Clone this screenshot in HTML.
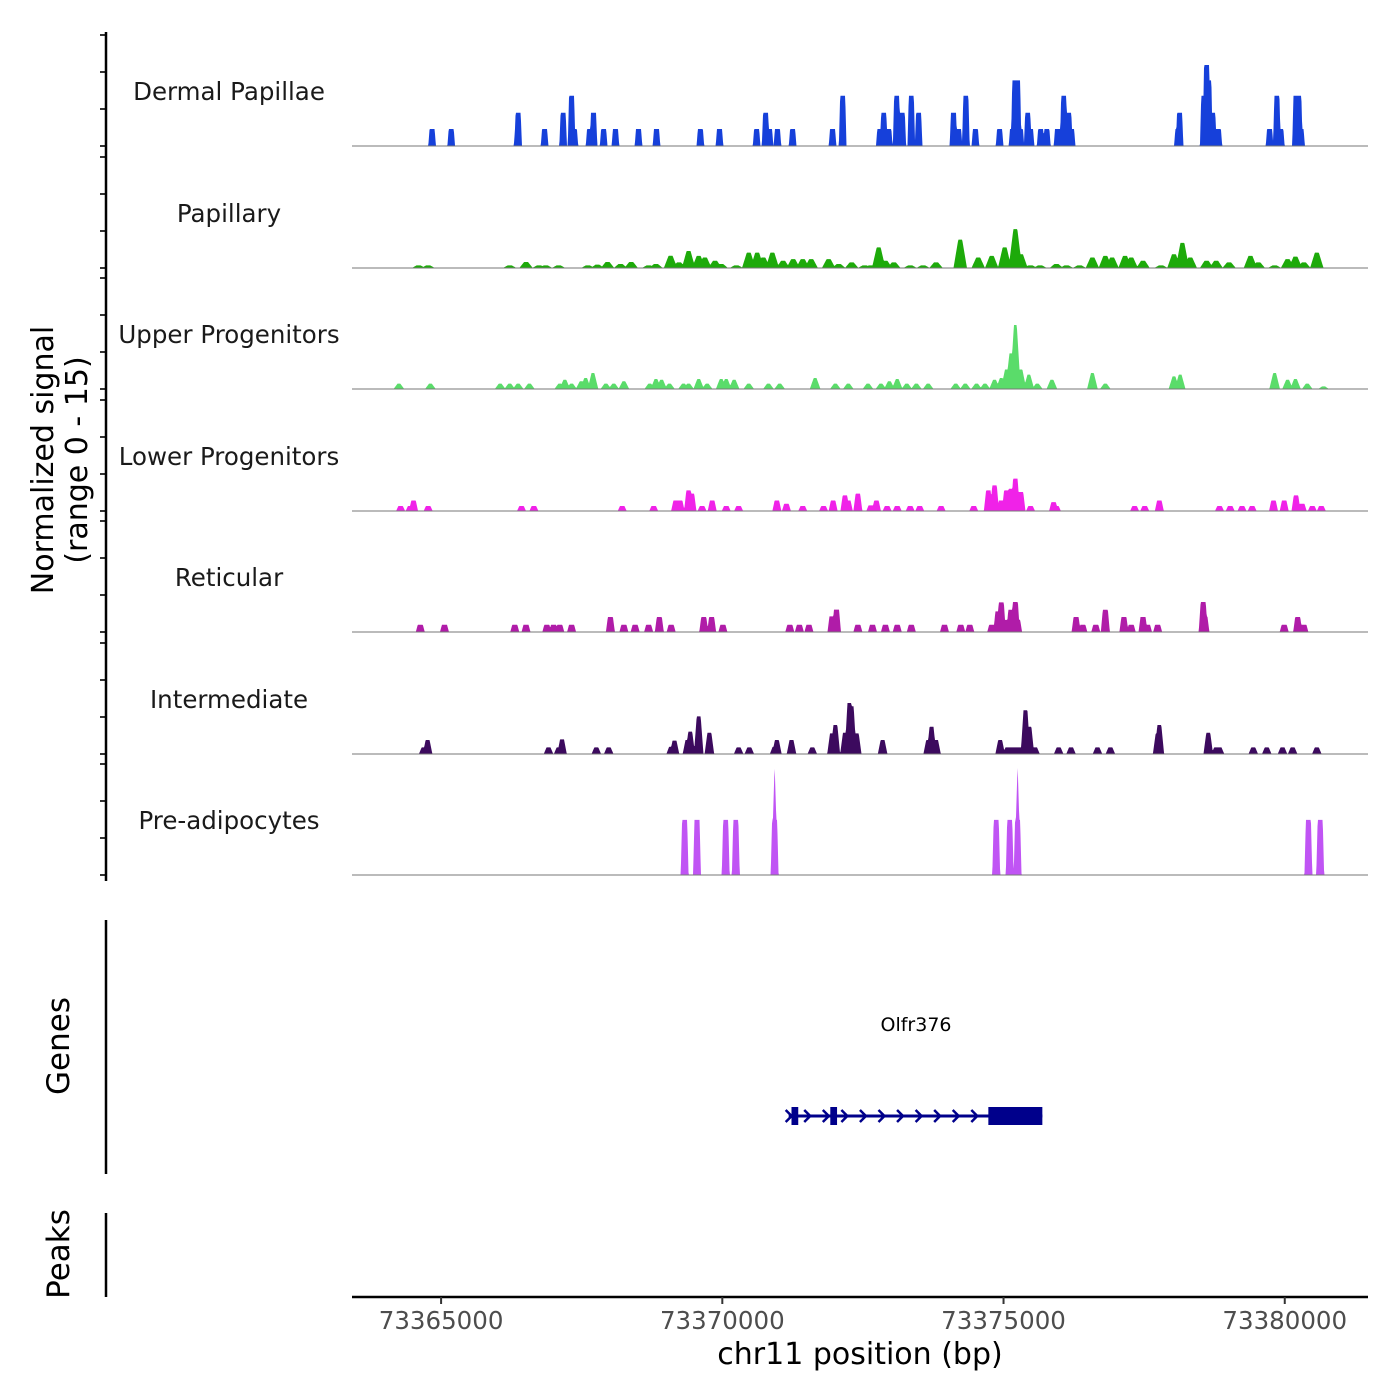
<!DOCTYPE html>
<html><head><meta charset="utf-8">
<style>
html,body{margin:0;padding:0;background:#fff;}
svg{display:block;font-family:"DejaVu Sans","Liberation Sans",sans-serif;}
</style></head>
<body>
<svg id="chart" width="1400" height="1400" viewBox="0 0 1400 1400" xmlns="http://www.w3.org/2000/svg"></svg>
<script>
// ---- data (positions in kb, values = normalized signal) ----
const trackNames = ["Dermal Papillae","Papillary","Upper Progenitors","Lower Progenitors","Reticular","Intermediate","Pre-adipocytes"];
const xTickValues = [73365000,73370000,73375000,73380000];
const xTickLabels = ["73365000","73370000","73375000","73380000"];

const dermalPos = [73364.84,73365.18,73366.36,73366.37,73366.84,73367.17,73367.32,73367.37,73367.64,73367.71,73367.89,73368.10,73368.51,73368.83,73369.61,73369.95,73370.61,73370.77,73370.84,73370.98,73371.25,73371.96,73372.14,73372.80,73372.87,73372.96,73373.10,73373.20,73373.36,73373.49,73374.11,73374.20,73374.33,73374.50,73374.93,73375.16,73375.20,73375.25,73375.30,73375.43,73375.48,73375.66,73375.77,73375.96,73376.07,73376.16,73376.21,73378.10,73378.13,73378.56,73378.61,73378.65,73378.72,73378.77,73378.82,73379.73,73379.86,73379.93,73380.20,73380.25,73380.29];
const dermalVal = [2.1,2.1,2.1,4.1,2.1,4.1,6.2,2.1,2.1,4.1,2.1,2.1,2.1,2.1,2.1,2.1,2.1,4.1,2.1,2.1,2.1,2.1,6.2,2.1,4.1,2.1,6.2,4.1,6.2,4.1,4.1,2.1,6.2,2.1,2.1,2.1,8.1,8.1,2.1,4.1,2.1,2.1,2.1,2.1,6.2,4.1,2.1,2.1,4.1,6.2,10,8.1,4.1,2.1,2.1,2.1,6.2,2.1,6.2,6.2,2.1];

const papillaryPos = [73364.60,73364.77,73366.22,73366.51,73366.74,73366.86,73367.09,73367.61,73367.78,73367.96,73368.19,73368.38,73368.69,73368.82,73369.08,73369.23,73369.40,73369.58,73369.69,73369.87,73369.98,73370.25,73370.47,73370.62,73370.73,73370.89,73371.08,73371.26,73371.43,73371.58,73371.89,73372.07,73372.30,73372.53,73372.64,73372.78,73372.90,73373.05,73373.34,73373.57,73373.80,73374.23,73374.55,73374.79,73375.02,73375.21,73375.31,73375.48,73375.65,73375.94,73376.12,73376.35,73376.58,73376.81,73376.93,73377.16,73377.27,73377.48,73377.80,73378.03,73378.18,73378.32,73378.61,73378.78,73379.01,73379.39,73379.53,73379.82,73380.05,73380.19,73380.34,73380.57];
const papillaryVal = [0.33,0.33,0.33,0.74,0.33,0.33,0.33,0.33,0.41,0.74,0.5,0.74,0.33,0.5,1.52,0.7,2.1,1.5,1.3,0.9,0.5,0.33,1.9,1.9,1.3,1.9,0.9,1.1,1.1,1.1,1.1,0.5,0.7,0.33,0.33,2.55,0.9,0.7,0.33,0.33,0.7,3.5,1.3,1.5,2.55,4.8,1.7,0.33,0.33,0.5,0.33,0.33,1.3,1.5,1.3,1.5,1.3,0.9,0.33,1.7,3.1,1.3,0.9,0.9,0.7,1.5,0.7,0.33,1.1,1.4,0.7,1.9];

const upperPos = [73364.25,73364.81,73366.05,73366.22,73366.37,73366.57,73367.11,73367.20,73367.32,73367.49,73367.57,73367.70,73367.93,73368.07,73368.25,73368.71,73368.82,73368.92,73369.06,73369.31,73369.40,73369.58,73369.73,73369.98,73370.07,73370.21,73370.47,73370.82,73371.02,73371.65,73372.01,73372.24,73372.59,73372.82,73372.97,73373.11,73373.28,73373.45,73373.66,73374.15,73374.32,73374.52,73374.67,73374.84,73374.96,73375.05,73375.13,73375.21,73375.31,73375.45,73375.60,73375.86,73376.58,73376.81,73378.03,73378.14,73379.82,73380.05,73380.19,73380.40,73380.69];
const upperVal = [0.66,0.66,0.66,0.66,0.66,0.66,0.66,1.15,0.66,0.95,1.36,1.98,0.66,0.66,0.95,0.66,1.23,1.15,0.66,0.66,0.66,1.23,0.66,1.23,1.23,1.15,0.66,0.66,0.66,1.36,0.66,0.66,0.66,0.66,0.95,1.23,0.66,0.66,0.66,0.66,0.66,0.66,0.66,1.15,1.36,2.4,4.4,7.9,2.4,1.77,0.66,1.15,1.98,0.66,1.56,1.77,1.98,1.15,1.23,0.66,0.33];

const lowerPos = [73364.28,73364.45,73364.51,73364.77,73366.43,73366.65,73368.22,73368.78,73369.17,73369.25,73369.40,73369.46,73369.64,73369.82,73370.07,73370.29,73370.97,73371.14,73371.43,73371.80,73371.97,73372.18,73372.24,73372.41,73372.64,73372.74,73372.93,73373.11,73373.34,73373.51,73373.89,73374.47,73374.73,73374.84,73374.96,73375.05,73375.13,73375.21,73375.31,73375.48,73375.89,73375.94,73377.33,73377.51,73377.77,73378.84,73379.03,73379.24,73379.42,73379.80,73379.99,73380.20,73380.31,73380.49,73380.65];
const lowerVal = [0.62,0.62,1.3,0.62,0.62,0.62,0.62,0.62,1.3,1.3,2.55,2.14,0.62,1.3,0.62,0.62,1.3,0.9,0.62,0.62,1.3,1.93,1.3,2.14,0.7,1.3,0.62,0.62,0.62,0.62,0.62,0.62,2.55,3.17,1.3,2.55,2.75,4.0,2.35,0.62,1.1,0.62,0.62,0.62,1.3,0.62,0.62,0.62,0.62,1.3,1.3,1.93,0.9,0.62,0.62];

const reticularPos = [73364.63,73365.06,73366.31,73366.51,73366.88,73367.00,73367.11,73367.32,73368.01,73368.25,73368.45,73368.69,73368.88,73369.09,73369.67,73369.81,73370.01,73371.20,73371.37,73371.54,73371.95,73372.03,73372.41,73372.67,73372.90,73373.11,73373.36,73373.95,73374.24,73374.40,73374.79,73374.90,73374.96,73375.05,73375.13,73375.21,73375.25,73376.29,73376.41,73376.64,73376.81,73377.14,73377.27,73377.48,73377.56,73377.74,73378.55,73378.58,73379.99,73380.23,73380.34];
const reticularVal = [0.9,0.9,0.9,0.9,0.9,0.9,0.9,0.9,1.85,0.9,0.9,0.9,1.85,0.9,1.85,1.85,0.9,0.9,0.9,0.9,1.93,2.76,0.9,0.9,0.9,0.9,0.9,0.9,0.9,0.9,0.9,2.55,3.66,1.5,2.75,3.7,1.5,1.85,0.9,0.9,2.75,1.85,0.9,1.85,0.9,0.9,3.7,1.93,0.9,1.85,0.9];

const intermediatePos = [73364.69,73364.76,73366.91,73367.09,73367.15,73367.76,73367.98,73369.09,73369.15,73369.38,73369.43,73369.58,73369.77,73370.29,73370.48,73370.93,73370.97,73371.23,73371.60,73371.95,73372.01,73372.18,73372.26,73372.30,73372.39,73372.85,73373.66,73373.72,73373.80,73374.94,73375.07,73375.13,73375.19,73375.25,73375.31,73375.39,73375.46,73375.56,73375.98,73376.20,73376.67,73376.90,73377.74,73377.77,73378.64,73378.78,73378.84,73379.44,73379.68,73379.96,73380.14,73380.57];
const intermediateVal = [0.82,1.73,0.82,0.82,1.81,0.82,0.82,0.9,1.65,1.73,2.76,4.65,2.63,0.82,0.82,0.9,1.73,1.73,0.82,2.55,3.58,2.63,6.3,5.9,2.55,1.73,1.73,3.37,1.73,1.73,0.82,0.82,0.82,0.82,0.82,5.4,3.37,0.82,0.82,0.82,0.82,0.82,2.55,3.58,2.63,0.82,0.82,0.82,0.82,0.82,0.82,0.82];

const preadipoPos = [73369.33,73369.55,73370.06,73370.24,73370.93,73374.87,73375.11,73375.25,73380.42,73380.63];
const preadipoVal = [6.8,6.8,6.8,6.8,6.8,6.8,6.8,6.8,6.8,6.8];
const preadipoSpikePos = [73370.93,73375.25];
const preadipoSpikeVal = [13.6,13.6];

const geneExonStart = [73371.23,73371.92,73374.73];
const geneExonEnd = [73371.35,73372.04,73375.69];
const geneStart = 73371.18, geneEnd = 73375.69;

// ---- layout ----
const NS = "http://www.w3.org/2000/svg";
const svg = document.getElementById("chart");
const X0 = 352, X1 = 1368;
const D0 = 73363416, D1 = 73381480;
function xs(bp){ return X0 + (bp - D0) / (D1 - D0) * (X1 - X0); }
function ys(v){ return v * 8.1; }
const baselines = [146,268,389,511,632,754,875];
const colors = ["#1640DA","#1DAA0A","#5ADC6A","#F022E8","#B01CA8","#3C0A5E","#C054F4"];
const tracks = [
 {name:"dermal-papillae", pos:dermalPos, val:dermalVal, t:45, b:68},
 {name:"papillary", pos:papillaryPos, val:papillaryVal, t:35, b:120},
 {name:"upper-progenitors", pos:upperPos, val:upperVal, t:25, b:95},
 {name:"lower-progenitors", pos:lowerPos, val:lowerVal, t:40, b:80},
 {name:"reticular", pos:reticularPos, val:reticularVal, t:45, b:80},
 {name:"intermediate", pos:intermediatePos, val:intermediateVal, t:35, b:85},
 {name:"pre-adipocytes", pos:preadipoPos, val:preadipoVal, t:45, b:70, spikePos:preadipoSpikePos, spikeVal:preadipoSpikeVal}
];
function el(tag, attrs, parent){
  const e = document.createElementNS(NS, tag);
  for (const k in attrs) e.setAttribute(k, attrs[k]);
  (parent||svg).appendChild(e);
  return e;
}
function kern(d, h, t, b){ if (d <= t) return h; if (d < b) return h*(b-d)/(b-t); return 0; }

tracks.forEach((tr, i) => {
  const base = baselines[i];
  const g = el("g", {});
  
  
  let d = "M" + X0 + "," + base;
  for (let px = X0; px <= X1; px += 0.5) {
    const bp = D0 + (px - X0) / (X1 - X0) * (D1 - D0);
    let v = 0;
    for (let k = 0; k < tr.pos.length; k++) {
      const dd = Math.abs(bp - tr.pos[k]*1000);
      if (dd < tr.b) v = Math.max(v, kern(dd, tr.val[k], tr.t, tr.b));
    }
    if (tr.spikePos) for (let k = 0; k < tr.spikePos.length; k++) {
      const dd = Math.abs(bp - tr.spikePos[k]*1000);
      if (dd < 60) v = Math.max(v, kern(dd, tr.spikeVal[k], 0, 60));
    }
    d += " L" + px.toFixed(1) + "," + (base - ys(v)).toFixed(2);
  }
  d += " L" + X1 + "," + base + " Z";
  const p = el("path", {d:d, fill:colors[i], stroke:"none"}, g);
  
  
  const ln = el("line", {x1:X0, x2:X1, y1:base, y2:base, stroke:"#777", "stroke-width":1}, g);
  
  
  const lb = el("text", {x:229, y:base-46, "text-anchor":"middle", "font-size":"24.5", fill:"#1a1a1a"}, g);
  lb.textContent = trackNames[i];
  
  
  [0,37,74,111].forEach(o => {
    const tk = el("line", {x1:100, x2:106, y1:base-o, y2:base-o, stroke:"#333", "stroke-width":2});
    
    
  });
});

const ax1 = el("line", {x1:106, x2:106, y1:32, y2:881, stroke:"#000", "stroke-width":2.5});


const ax2 = el("line", {x1:106, x2:106, y1:920, y2:1174, stroke:"#000", "stroke-width":2.5});


const ax3 = el("line", {x1:106, x2:106, y1:1213, y2:1297, stroke:"#000", "stroke-width":2.5});



const yt = el("text", {transform:"translate(53,460) rotate(-90)", "text-anchor":"middle", "font-size":"30", fill:"#000"});


const t1 = el("tspan", {x:0, dy:0}, yt); t1.textContent = "Normalized signal";
const t2 = el("tspan", {x:0, dy:34}, yt); t2.textContent = "(range 0 - 15)";
const gt = el("text", {transform:"translate(69,1046) rotate(-90)", "text-anchor":"middle", "font-size":"31", fill:"#000"});
gt.textContent = "Genes";


const pt = el("text", {transform:"translate(69,1254) rotate(-90)", "text-anchor":"middle", "font-size":"31", fill:"#000"});
pt.textContent = "Peaks";



const gg = el("g", {});


const gy = 1116;
const gl = el("line", {x1:xs(geneStart*1000), x2:xs(geneEnd*1000), y1:gy, y2:gy, stroke:"#00008B", "stroke-width":3}, gg);


for (let bp = geneStart*1000; bp < geneExonStart[2]*1000; bp += 330) {
  const cx = xs(bp);
  const ch = el("polyline", {points:(cx-3)+","+(gy-6)+" "+(cx+3)+","+gy+" "+(cx-3)+","+(gy+6), fill:"none", stroke:"#00008B", "stroke-width":2.5}, gg);
  
  
}
geneExonStart.forEach((s, i) => {
  const r = el("rect", {x:xs(s*1000), y:gy-9, width:xs(geneExonEnd[i]*1000)-xs(s*1000), height:18, fill:"#00008B"}, gg);
  
  
});
const gn = el("text", {x:916, y:1031, "text-anchor":"middle", "font-size":"19", fill:"#000"}, gg);
gn.textContent = "Olfr376";



const xa = el("line", {x1:X0, x2:X1, y1:1297, y2:1297, stroke:"#000", "stroke-width":2.5});


xTickValues.forEach((v, i) => {
  const x = xs(v);
  const tk = el("line", {x1:x, x2:x, y1:1297, y2:1304, stroke:"#333", "stroke-width":2});
  
  
  const tl = el("text", {x:x, y:1329, "text-anchor":"middle", "font-size":"24.5", fill:"#4d4d4d"});
  tl.textContent = xTickLabels[i];
  
  
});
const xt = el("text", {x:860, y:1364, "text-anchor":"middle", "font-size":"30", fill:"#000"});
xt.textContent = "chr11 position (bp)";


</script>
</body></html>
